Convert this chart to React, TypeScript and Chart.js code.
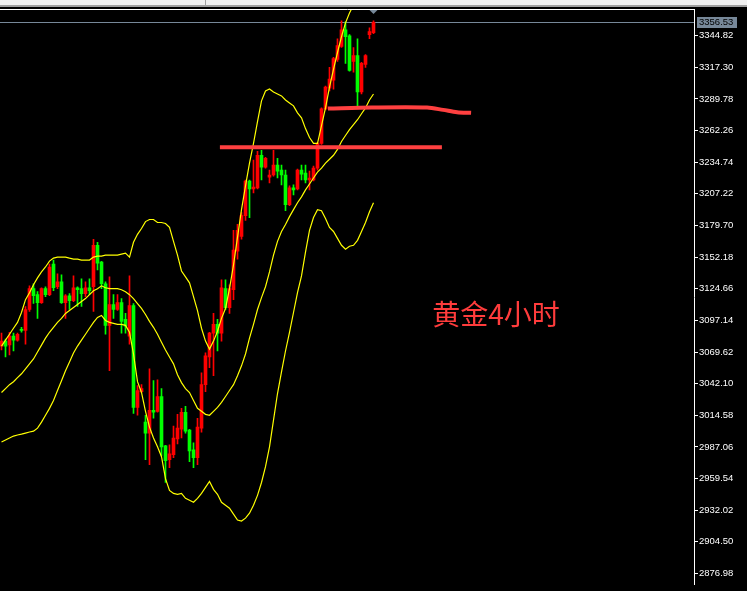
import React, { useEffect, useRef } from "react";
import { Chart, registerables } from "chart.js";

Chart.register(...registerables);

// ---- Candles (XAUUSD H4) ----
const opens = [
  3074.8, 3079.1, 3075.7, 3083.4, 3079.9, 3089.4, 3088.5, 3106.6, 3124.7, 3119.5,
  3112.6, 3124.7, 3119.5, 3146.2, 3126.4, 3130.7, 3112.6, 3118.6, 3114.3, 3125.5,
  3124.7, 3120.4, 3125.5, 3126.4, 3162.5, 3147.9, 3129.0, 3092.8, 3110.9, 3106.6,
  3112.6, 3098.0, 3083.4, 3110.0, 3021.5, 3035.2, 3008.6, 2999.1, 3018.9, 3018.0,
  3030.9, 2987.9, 2975.9, 2980.2, 2993.9, 3002.5, 3017.2, 3001.7, 2984.5, 2977.6,
  3003.4, 3041.3, 3065.3, 3086.0, 3093.7, 3086.0, 3124.7, 3108.3, 3123.8, 3157.4,
  3170.2, 3188.3, 3218.4, 3211.5, 3212.4, 3240.8, 3230.4, 3221.8, 3223.6, 3232.2,
  3227.9, 3223.6, 3197.8, 3212.4, 3211.5, 3227.9, 3225.3, 3219.3, 3219.3, 3229.6,
  3251.1, 3281.2, 3299.2, 3306.1, 3324.2, 3335.4, 3350.0, 3344.8, 3322.5, 3327.6,
  3295.8, 3319.9, 3345.7, 3347.4,
];
const highs = [
  3086.0, 3080.8, 3086.8, 3086.0, 3086.0, 3091.1, 3109.2, 3127.3, 3129.0, 3122.1,
  3125.5, 3126.4, 3146.2, 3149.6, 3137.6, 3136.7, 3119.5, 3120.4, 3135.9, 3126.4,
  3133.3, 3130.7, 3133.3, 3167.7, 3165.1, 3148.5, 3130.7, 3135.0, 3119.5, 3119.5,
  3116.1, 3103.2, 3135.9, 3111.8, 3040.4, 3041.3, 3014.6, 3055.0, 3044.7, 3045.5,
  3037.8, 2988.5, 2988.8, 3005.1, 3015.4, 3020.6, 3022.3, 3002.3, 2990.5, 3012.0,
  3051.6, 3068.8, 3086.8, 3103.2, 3098.0, 3132.4, 3132.4, 3128.1, 3175.4, 3180.6,
  3190.9, 3219.3, 3219.3, 3236.5, 3244.2, 3245.1, 3239.0, 3227.9, 3245.1, 3238.2,
  3232.2, 3227.9, 3214.1, 3215.0, 3228.7, 3232.2, 3232.2, 3227.0, 3231.3, 3252.0,
  3282.0, 3300.9, 3317.3, 3325.9, 3342.2, 3357.7, 3356.9, 3345.7, 3334.5, 3342.2,
  3321.6, 3328.5, 3351.7, 3357.7,
];
const lows = [
  3071.4, 3065.3, 3067.0, 3070.5, 3079.0, 3086.8, 3076.5, 3104.9, 3111.8, 3098.9,
  3111.8, 3117.8, 3118.6, 3122.9, 3124.7, 3111.8, 3098.9, 3106.6, 3113.5, 3109.2,
  3109.2, 3117.8, 3119.5, 3104.9, 3141.0, 3124.7, 3085.1, 3053.3, 3098.9, 3105.7,
  3086.0, 3086.0, 3076.5, 3016.3, 3014.6, 3034.4, 2975.9, 2971.6, 3012.0, 3017.2,
  2979.3, 2956.1, 2969.0, 2977.6, 2989.6, 2994.8, 2999.1, 2974.2, 2969.0, 2971.6,
  2999.9, 3035.2, 3055.9, 3049.0, 3070.5, 3079.1, 3106.6, 3103.2, 3115.2, 3150.4,
  3167.7, 3184.0, 3186.6, 3208.1, 3211.5, 3219.3, 3229.6, 3216.7, 3222.7, 3221.0,
  3215.0, 3192.6, 3196.9, 3206.4, 3210.7, 3219.3, 3216.7, 3210.7, 3218.4, 3227.9,
  3250.3, 3280.3, 3296.7, 3298.4, 3322.5, 3334.6, 3320.7, 3313.9, 3313.0, 3282.9,
  3294.1, 3317.3, 3342.2, 3346.5,
];
const closes = [
  3079.1, 3074.8, 3083.4, 3079.9, 3085.1, 3088.5, 3106.6, 3124.7, 3118.6, 3112.6,
  3124.7, 3119.5, 3143.6, 3125.5, 3130.7, 3112.6, 3118.6, 3114.3, 3125.5, 3123.8,
  3120.4, 3125.5, 3122.9, 3162.5, 3147.0, 3129.0, 3092.8, 3110.9, 3106.6, 3112.6,
  3096.3, 3092.0, 3110.0, 3021.5, 3036.1, 3037.8, 2999.1, 3018.9, 3017.2, 3030.9,
  2987.1, 2975.0, 2981.0, 2994.8, 3003.4, 3017.2, 3000.8, 2983.6, 2977.6, 3004.3,
  3041.3, 3066.2, 3086.0, 3093.7, 3086.0, 3125.5, 3108.3, 3124.7, 3158.2, 3175.4,
  3188.3, 3218.4, 3211.5, 3213.2, 3240.8, 3230.4, 3238.2, 3223.6, 3232.2, 3227.0,
  3223.6, 3197.8, 3212.4, 3210.7, 3227.9, 3224.4, 3219.3, 3221.0, 3229.6, 3251.1,
  3281.2, 3300.1, 3307.0, 3325.0, 3336.2, 3350.0, 3344.0, 3314.7, 3327.6, 3295.8,
  3320.7, 3327.6, 3348.3, 3356.53,
];

// ---- Bollinger Bands ----
const upperBand = [
  3074.8, 3079.9, 3085.1, 3090.3, 3095.4, 3104.0, 3115.2, 3121.2, 3128.1, 3134.1,
  3139.3, 3143.6, 3148.7, 3151.3, 3152.2, 3152.2, 3152.2, 3151.3, 3150.5, 3150.5,
  3149.6, 3149.6, 3149.6, 3152.2, 3153.0, 3153.0, 3153.9, 3153.9, 3153.9, 3153.9,
  3154.8, 3155.6, 3152.2, 3165.1, 3172.0, 3177.1, 3183.1, 3184.9, 3184.9, 3182.3,
  3182.3, 3181.4, 3178.0, 3165.9, 3153.9, 3140.1, 3135.0, 3129.8, 3117.8, 3105.7,
  3090.3, 3079.1, 3072.2, 3079.1, 3087.7, 3098.9, 3107.5, 3124.7, 3145.3, 3169.4,
  3193.5, 3214.1, 3233.9, 3251.1, 3270.0, 3288.1, 3296.7, 3298.4, 3295.8, 3294.1,
  3292.4, 3288.9, 3286.3, 3283.8, 3277.7, 3273.4, 3264.0, 3256.2, 3251.1, 3251.1,
  3266.6, 3282.0, 3300.1, 3315.6, 3330.2, 3344.0, 3356.0, 3364.6, 3371.5, 3377.5,
  3382.7, 3387.8, 3393.0, 3398.1,
];
const middleBand = [
  3034.4, 3037.8, 3041.2, 3043.8, 3047.3, 3050.7, 3055.0, 3059.3, 3063.6, 3069.6,
  3075.6, 3081.7, 3086.8, 3091.1, 3095.4, 3098.9, 3103.2, 3105.7, 3108.3, 3110.9,
  3113.5, 3116.1, 3119.5, 3122.9, 3124.7, 3127.2, 3125.5, 3124.7, 3124.7, 3124.7,
  3123.8, 3122.1, 3119.5, 3116.1, 3111.8, 3107.5, 3102.3, 3096.3, 3091.1, 3085.1,
  3078.2, 3071.3, 3065.3, 3059.3, 3049.8, 3043.0, 3037.8, 3034.4, 3027.5, 3020.6,
  3018.0, 3015.4, 3014.6, 3018.0, 3021.5, 3025.8, 3030.9, 3036.1, 3041.2, 3049.0,
  3057.6, 3067.9, 3081.7, 3093.7, 3106.6, 3116.9, 3126.4, 3139.3, 3153.9, 3165.9,
  3174.5, 3180.6, 3187.4, 3193.5, 3199.5, 3204.6, 3210.7, 3215.8, 3221.0, 3226.1,
  3229.6, 3233.9, 3237.3, 3240.8, 3245.9, 3252.8, 3258.0, 3263.1, 3267.4, 3271.7,
  3276.9, 3282.0, 3288.9, 3294.1,
];
const lowerBand = [
  2991.4, 2993.1, 2994.8, 2996.5, 2997.4, 2998.2, 2999.1, 3000.0, 3000.8, 3003.4,
  3008.6, 3014.6, 3020.6, 3027.5, 3036.1, 3044.7, 3053.3, 3061.0, 3068.8, 3074.8,
  3079.9, 3085.1, 3090.3, 3095.4, 3099.7, 3101.4, 3097.1, 3095.4, 3094.6, 3093.7,
  3093.7, 3092.8, 3086.8, 3067.9, 3043.8, 3034.4, 3018.0, 3004.3, 2994.8, 2987.1,
  2978.5, 2959.5, 2949.2, 2946.6, 2945.8, 2946.6, 2942.3, 2940.6, 2938.9, 2942.3,
  2946.6, 2951.8, 2957.0, 2950.1, 2945.8, 2938.9, 2936.3, 2933.7, 2928.6, 2923.4,
  2922.6, 2925.1, 2929.4, 2936.3, 2944.9, 2956.1, 2969.9, 2987.1, 3010.3, 3033.5,
  3052.4, 3070.5, 3086.8, 3104.0, 3121.2, 3135.8, 3156.5, 3175.4, 3186.6, 3193.5,
  3192.6, 3185.7, 3178.0, 3174.5, 3168.5, 3162.5, 3159.1, 3161.6, 3162.5, 3166.8,
  3174.5, 3182.3, 3191.7, 3199.5,
];

// ---- Axis ----
const yTicks = [
  2876.98, 2904.5, 2932.02, 2959.54, 2987.06, 3014.58, 3042.1, 3069.62, 3097.14,
  3124.66, 3152.18, 3179.7, 3207.22, 3234.74, 3262.26, 3289.78, 3317.3, 3344.82,
];
const yMin = 2867.52;
const yMax = 3367.18;
const xMin = -0.375;
const xMax = 173.125;
const lastPrice = 3356.53;

// ---- Hand-drawn lines & label ----
const lineAX = [54.6, 110.1];
const lineAY = [3247.8, 3247.8];
const lineBX = [81.6, 92.6, 106.4, 110.4, 113.9, 117.4];
const lineBY = [3281.4, 3282.3, 3282.3, 3280.3, 3278.3, 3277.7];
const noteText = "黄金4小时";
const noteX = 123.6;
const noteY = 3102.0;

export default function App() {
  const ref = useRef<HTMLCanvasElement>(null);

  useEffect(() => {
    if (!ref.current) return;
    const idx = opens.map((_, i) => i);
    const colors = idx.map((i) => (closes[i] >= opens[i] ? "#ff0000" : "#00ff00"));
    const tickFont = { family: "Liberation Sans", size: 9.5 };

    const decor = {
      id: "decor",
      beforeDraw(chart: any) {
        const ctx = chart.ctx;
        ctx.save();
        ctx.fillStyle = "#000000";
        ctx.fillRect(0, 0, chart.width, chart.height);
        ctx.fillStyle = "#f0f0f0";
        ctx.fillRect(0, 0, chart.width, 5);
        ctx.fillStyle = "#a0a0a0";
        ctx.fillRect(0, 5, chart.width, 2);
        ctx.fillRect(205, 0, 1, 5);
        ctx.restore();
      },
      beforeDatasetsDraw(chart: any) {
        const ctx = chart.ctx;
        const y = chart.scales.y;
        const area = chart.chartArea;
        const py = Math.round(y.getPixelForValue(lastPrice)) + 0.5;
        ctx.save();
        ctx.strokeStyle = "#778899";
        ctx.lineWidth = 1;
        ctx.beginPath();
        ctx.moveTo(area.left, py);
        ctx.lineTo(area.right, py);
        ctx.stroke();
        ctx.restore();
      },
      afterDatasetsDraw(chart: any) {
        const ctx = chart.ctx;
        const x = chart.scales.x;
        const y = chart.scales.y;
        const area = chart.chartArea;
        ctx.save();
        ctx.fillStyle = "#ff3c3c";
        ctx.font = '28px "Noto Sans CJK SC"';
        ctx.textAlign = "center";
        ctx.textBaseline = "middle";
        ctx.fillText(noteText, x.getPixelForValue(noteX), y.getPixelForValue(noteY));
        // frame top line
        ctx.strokeStyle = "#ffffff";
        ctx.lineWidth = 1;
        ctx.beginPath();
        ctx.moveTo(0, area.top - 0.5);
        ctx.lineTo(area.right + 1, area.top - 0.5);
        ctx.stroke();
        // shift marker
        const mx = x.getPixelForValue(93);
        ctx.fillStyle = "#778899";
        ctx.beginPath();
        ctx.moveTo(mx - 4, area.top);
        ctx.lineTo(mx + 4, area.top);
        ctx.lineTo(mx, area.top + 4);
        ctx.closePath();
        ctx.fill();
        ctx.restore();
      },
      afterDraw(chart: any) {
        const ctx = chart.ctx;
        const y = chart.scales.y;
        const py = y.getPixelForValue(lastPrice);
        ctx.save();
        ctx.fillStyle = "#778899";
        ctx.fillRect(697, Math.round(py) - 5, 40, 11);
        ctx.fillStyle = "#000000";
        ctx.font = '9.5px "Liberation Sans"';
        ctx.textAlign = "left";
        ctx.textBaseline = "middle";
        ctx.fillText(lastPrice.toFixed(2), 699, Math.round(py) + 0.5);
        ctx.restore();
      },
    };

    const bandStyle = { borderColor: "#ffff00", borderWidth: 1.2, pointRadius: 0, tension: 0, order: 1 };

    const chart = new Chart(ref.current, {
      type: "bar",
      data: {
        datasets: [
          {
            type: "bar",
            data: idx.map((i) => ({ x: i, y: [lows[i], highs[i]] })) as any,
            backgroundColor: colors,
            barThickness: 1,
            grouped: false,
            borderWidth: 0,
            order: 3,
          } as any,
          {
            type: "bar",
            data: idx.map((i) => ({ x: i, y: [opens[i], closes[i]] })) as any,
            backgroundColor: colors,
            barThickness: 3,
            minBarLength: 1,
            grouped: false,
            borderWidth: 0,
            order: 2,
          } as any,
          { type: "line", data: idx.map((i) => ({ x: i, y: upperBand[i] })), ...bandStyle } as any,
          { type: "line", data: idx.map((i) => ({ x: i, y: middleBand[i] })), ...bandStyle } as any,
          { type: "line", data: idx.map((i) => ({ x: i, y: lowerBand[i] })), ...bandStyle } as any,
          {
            type: "line",
            data: lineAX.map((v, k) => ({ x: v, y: lineAY[k] })),
            borderColor: "#ff4040",
            borderWidth: 4,
            pointRadius: 0,
            tension: 0,
            order: 0,
          } as any,
          {
            type: "line",
            data: lineBX.map((v, k) => ({ x: v, y: lineBY[k] })),
            borderColor: "#ff4040",
            borderWidth: 4,
            pointRadius: 0,
            tension: 0.3,
            order: 0,
          } as any,
        ],
      },
      options: {
        animation: false,
        responsive: false,
        devicePixelRatio: 1,
        layout: { padding: { top: 10, left: 0, right: 0, bottom: 0 } },
        plugins: { legend: { display: false }, tooltip: { enabled: false } },
        scales: {
          x: { type: "linear", display: false, min: xMin, max: xMax, offset: false },
          y: {
            type: "linear",
            position: "right",
            min: yMin,
            max: yMax,
            afterBuildTicks: (s: any) => {
              s.ticks = yTicks.map((v) => ({ value: v }));
            },
            afterFit: (s: any) => {
              s.width = 53;
            },
            grid: {
              drawOnChartArea: false,
              drawTicks: true,
              tickLength: 4,
              color: "#ffffff",
              lineWidth: 1,
            },
            border: { display: true, color: "#ffffff", width: 1 },
            ticks: {
              color: "#ffffff",
              font: tickFont,
              padding: 1,
              autoSkip: false,
              callback: (v: any) => Number(v).toFixed(2),
            },
          },
        },
      } as any,
      plugins: [decor],
    });
    return () => chart.destroy();
  }, []);

  return (
    <div style={{ position: "fixed", left: 0, top: 0, width: 747, height: 591, background: "#000" }}>
      <canvas ref={ref} width={747} height={591} style={{ display: "block", width: 747, height: 591 }} />
    </div>
  );
}
